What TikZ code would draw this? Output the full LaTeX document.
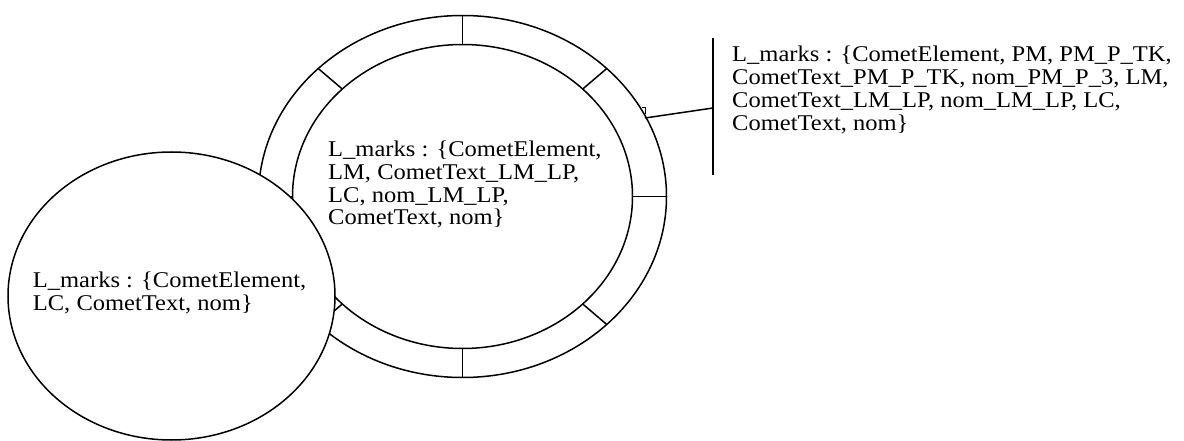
\documentclass[tikz,border=0pt]{standalone}
\usepackage{fontspec}
\setmainfont{Liberation Serif}[FakeStretch=1.09]
\usetikzlibrary{shapes.geometric}
\begin{document}
\begin{tikzpicture}[x=1pt,y=-1pt,
  ln/.style={line width=1.5pt, black},
  ring/.style={ln, draw, ellipse, inner sep=0pt},
  lbl/.style={anchor=base west, inner sep=0pt, align=left,
    font=\fontsize{22.5}{23}\selectfont}]
\useasboundingbox (0,0) rectangle (1184,441);
% big ring
\node[ring, minimum width=408pt, minimum height=362pt] (outer) at (462.5,196.5) {};
\node[ring, minimum width=340pt, minimum height=304pt] (inner) at (462.5,196.5) {};
\foreach \a in {0,45,...,315}
  \draw[ln] ({462.5+204*cos(\a)},{196.5-181*sin(\a)}) -- ({462.5+170*cos(\a)},{196.5-152*sin(\a)});
% small ellipse in front
\node[ring, fill=white, minimum width=327pt, minimum height=288pt] (small) at (171.5,296) {};
% texts (base anchor = baseline of last line)
\node[lbl] (tmid) at (328,225) {L\_marks : \{CometElement,\\LM, CometText\_LM\_LP,\\LC, nom\_LM\_LP,\\CometText, nom\}};
\node[lbl] (tsmall) at (32.7,310.3) {L\_marks : \{CometElement,\\LC, CometText, nom\}};
\node[lbl] (tnote) at (732,130.7) {L\_marks : \{CometElement, PM, PM\_P\_TK,\\CometText\_PM\_P\_TK, nom\_PM\_P\_3, LM,\\CometText\_LM\_LP, nom\_LM\_LP, LC,\\CometText, nom\}};
% annotation connector
\coordinate (ca) at (645,118);
\coordinate (cb) at (713,108);
\coordinate (bt) at (713,38);
\coordinate (bb) at (713,175);
\draw[ln] (ca) -- (cb);
\draw[ln] (bt) -- (bb);
\coordinate (m1) at (641.5,107.3);
\coordinate (m2) at (645.7,107.3);
\coordinate (m3) at (645.7,114);
\draw[line width=1pt] (m1) -- (m2) -- (m3);
\end{tikzpicture}
\end{document}
